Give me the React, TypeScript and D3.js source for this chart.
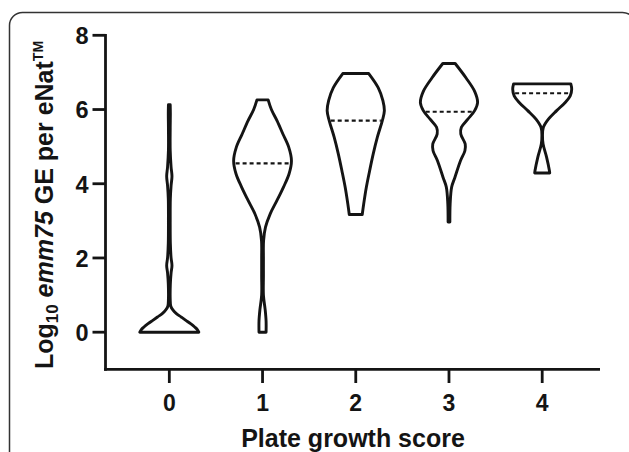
import React from "react";
import * as d3 from "d3";

// plate growth score categories
const scores = [0, 1, 2, 3, 4];
const yTicks = [0, 2, 4, 6, 8];

// violin outlines: [log10 value, relative half-width]
const violin0: [number, number][] = [
  [0, 1.0], [0.07, 0.95], [0.14, 0.86], [0.23, 0.72], [0.32, 0.56], [0.41, 0.4],
  [0.5, 0.24], [0.6, 0.12], [0.7, 0.05], [0.9, 0.03], [1.3, 0.035], [1.6, 0.06],
  [1.8, 0.09], [2.0, 0.06], [2.4, 0.035], [3.0, 0.03], [3.6, 0.035], [3.95, 0.06],
  [4.2, 0.09], [4.45, 0.06], [4.9, 0.03], [5.5, 0.03], [5.9, 0.035], [6.13, 0.03],
];
const violin1: [number, number][] = [
  [0, 0.12], [0.3, 0.12], [0.6, 0.09], [1.0, 0.03], [1.5, 0.03], [2.0, 0.03],
  [2.47, 0.035], [2.83, 0.1], [3.19, 0.26], [3.55, 0.49], [3.91, 0.71], [4.27, 0.9],
  [4.62, 0.98], [4.98, 0.89], [5.34, 0.69], [5.7, 0.49], [6.0, 0.3], [6.26, 0.19],
];
const violin2: [number, number][] = [
  [3.17, 0.22], [3.46, 0.27], [3.91, 0.36], [4.35, 0.47], [4.8, 0.59], [5.25, 0.73],
  [5.7, 0.9], [5.97, 0.97], [6.24, 0.92], [6.59, 0.76], [6.97, 0.44],
];
const violin3: [number, number][] = [
  [2.97, 0.03], [3.46, 0.04], [3.91, 0.09], [4.17, 0.2], [4.62, 0.39], [4.89, 0.54],
  [5.07, 0.55], [5.34, 0.4], [5.52, 0.42], [5.74, 0.64], [5.97, 0.87], [6.19, 0.97],
  [6.49, 0.87], [6.85, 0.58], [7.24, 0.21],
];
const violin4: [number, number][] = [
  [4.29, 0.255], [4.35, 0.245], [4.71, 0.15], [5.07, 0.03], [5.3, 0.01], [5.52, 0.04],
  [5.74, 0.21], [5.97, 0.49], [6.19, 0.78], [6.37, 0.95], [6.55, 1.0], [6.69, 0.97],
];
const violins = [violin0, violin1, violin2, violin3, violin4];
const medians = [0, 4.55, 5.7, 5.94, 6.44];

const W = 629;
const H = 452;
const ink = "#141414";
const font = "'Liberation Sans', Arial, sans-serif";

export default function App() {
  const x = d3.scaleLinear().domain([-0.69, 4.62]).range([105, 600]);
  const y = d3.scaleLinear().domain([-1, 8]).range([369.3, 35.3]);
  const w = d3.scaleLinear().domain([0, 1]).range([0, 29.5]);

  return (
    <svg
      width={W}
      height={H}
      style={{ position: "absolute", left: 0, top: 0, background: "#fff" }}
      fontFamily={font}
    >
      {/* frame */}
      <rect x={9.5} y={12.5} width={626} height={470} rx={13} fill="none" stroke="#333" strokeWidth={1.5} />

      {/* violins */}
      {violins.map((pts, i) => {
        const cx = x(scores[i]);
        const area = d3
          .area<[number, number]>()
          .y((d) => y(d[0]))
          .x0((d) => cx - w(d[1]))
          .x1((d) => cx + w(d[1]))
          .curve(d3.curveCatmullRom.alpha(0.5));
        const halfAt = d3.scaleLinear().domain(pts.map((d) => d[0])).range(pts.map((d) => d[1])).clamp(true);
        const hm = w(halfAt(medians[i])) - 1.5;
        return (
          <g key={i}>
            <path d={area(pts) || ""} fill="#fff" stroke={ink} strokeWidth={2.9} strokeLinejoin="round" />
            {i > 0 && (
              <line
                x1={cx - hm}
                x2={cx + hm}
                y1={y(medians[i])}
                y2={y(medians[i])}
                stroke={ink}
                strokeWidth={2.1}
                strokeDasharray="4,3"
              />
            )}
          </g>
        );
      })}

      {/* y axis */}
      <line x1={105.5} x2={105.5} y1={y(8) - 1.3} y2={y(-1) + 1.4} stroke={ink} strokeWidth={2.8} />
      {yTicks.map((t) => (
        <g key={t}>
          <line x1={92.5} x2={105.5} y1={y(t)} y2={y(t)} stroke={ink} strokeWidth={2.8} />
          <text x={88.5} y={y(t)} dy="0.38em" textAnchor="end" fontSize={23.5} fontWeight="bold" fill={ink}>
            {t}
          </text>
        </g>
      ))}

      {/* x axis */}
      <line x1={104.1} x2={600} y1={369.3} y2={369.3} stroke={ink} strokeWidth={2.8} />
      {scores.map((s) => (
        <g key={s}>
          <line x1={x(s)} x2={x(s)} y1={369.3} y2={383} stroke={ink} strokeWidth={2.8} />
          <text x={x(s)} y={410.5} textAnchor="middle" fontSize={23} fontWeight="bold" fill={ink}>
            {s}
          </text>
        </g>
      ))}

      {/* axis titles */}
      <text x={353} y={446.5} textAnchor="middle" fontSize={25} fontWeight="bold" fill={ink}>
        Plate growth score
      </text>
      <text
        transform="translate(53,205) rotate(-90)"
        textAnchor="middle"
        fontSize={25}
        fontWeight="bold"
        fill={ink}
      >
        Log<tspan fontSize={17} dy={5}>10</tspan>
        <tspan dy={-5} fontStyle="italic"> emm75</tspan> GE per eNat
        <tspan fontSize={14} dy={-10}>TM</tspan>
      </text>
    </svg>
  );
}
